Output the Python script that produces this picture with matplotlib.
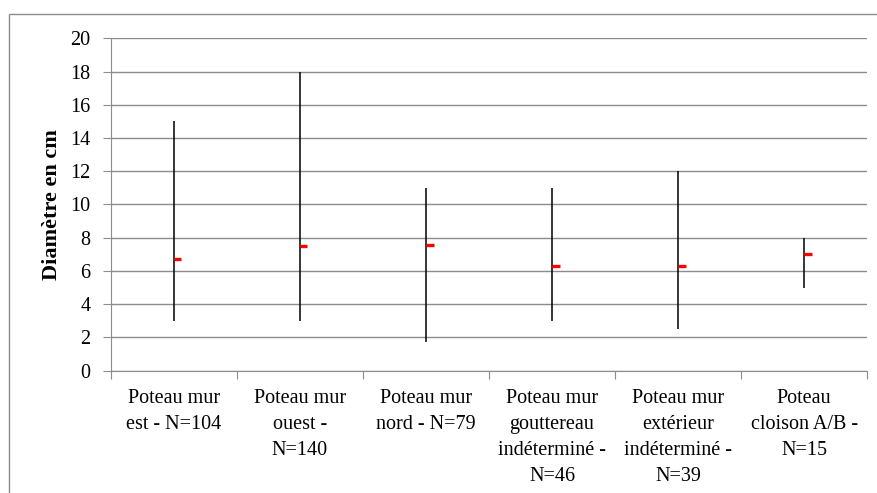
import matplotlib.pyplot as plt
from matplotlib.patches import Rectangle

plt.rcParams['font.family'] = ['Liberation Serif', 'DejaVu Serif']

categories = [
    "Poteau mur\nest - N=104",
    "Poteau mur\nouest -\nN=140",
    "Poteau mur\nnord - N=79",
    "Poteau mur\ngouttereau\nindéterminé -\nN=46",
    "Poteau mur\nextérieur\nindéterminé -\nN=39",
    "Poteau\ncloison A/B -\nN=15",
]
highs = [15, 18, 11, 11, 12, 8]
lows = [3, 3, 1.7, 3, 2.5, 5]
means = [6.75, 7.5, 7.55, 6.3, 6.3, 7.0]

grey = "#8c8c8c"

fig = plt.figure(figsize=(8.78, 4.93), dpi=100)
ax = fig.add_axes([0.1261, 0.2481, 0.8617, 0.6742])

x = list(range(len(categories)))
ax.vlines(x, lows, highs, color="black", linewidth=1.1, zorder=3)
ax.hlines(means, [i for i in x], [i + 0.06 for i in x], color="#ff0000",
          linewidth=2.4, zorder=4)

ax.set_xlim(-0.5, len(categories) - 0.5)
ax.set_ylim(0, 20)
ax.set_yticks(range(0, 21, 2))
ax.yaxis.grid(True, color=grey, linewidth=1.0)
ax.set_axisbelow(True)

ax.set_xticks([i - 0.5 for i in range(len(categories) + 1)])
ax.set_xticklabels([])
ax.set_xticks(x, minor=True)
ax.set_xticklabels(categories, minor=True, fontsize=14.5, linespacing=1.5,
                   va="top", ha="center")
ax.tick_params(axis="x", which="minor", length=0, pad=13)
ax.tick_params(axis="x", which="major", length=6, color=grey)
ax.tick_params(axis="y", length=6, color=grey, labelsize=14.5, pad=8.5)

for side in ["top", "right"]:
    ax.spines[side].set_visible(False)
for side in ["left", "bottom"]:
    ax.spines[side].set_color(grey)

ax.set_ylabel("Diamètre en cm", fontsize=16, fontweight="bold", labelpad=6)

fig.patches.append(Rectangle((9 / 878, -0.1), 1.1, 1.1 - 14.5 / 493,
                             transform=fig.transFigure, fill=False,
                             edgecolor=grey, linewidth=1.0))

fig.savefig("out.png", dpi=100)
